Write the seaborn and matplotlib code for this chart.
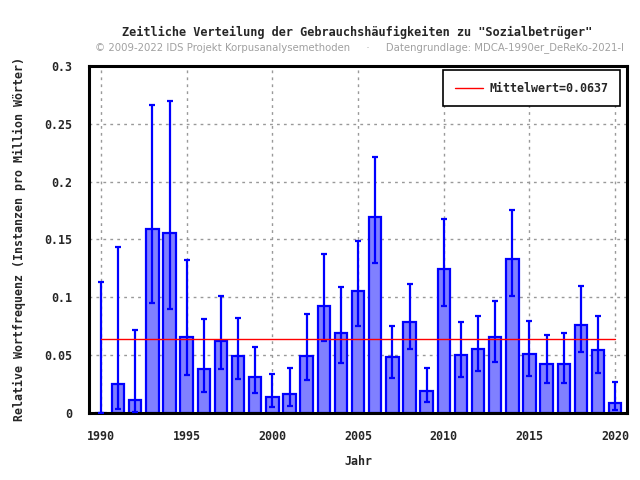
import numpy as np
import pandas as pd
import seaborn as sns
import matplotlib.pyplot as plt
from matplotlib.ticker import MultipleLocator

years = list(range(1990, 2021))
freq = [0.0, 0.0248, 0.0115, 0.159, 0.1558, 0.066, 0.0383, 0.0625, 0.0495, 0.0314,
        0.0141, 0.0167, 0.0495, 0.0927, 0.0694, 0.1057, 0.1696, 0.0481, 0.0789, 0.0193,
        0.1247, 0.0504, 0.0556, 0.066, 0.1333, 0.0512, 0.0426, 0.0426, 0.0763, 0.0547,
        0.0089]
err_low = [0.0, 0.0035, 0.001, 0.095, 0.0899, 0.0328, 0.0181, 0.038, 0.0294, 0.0176,
           0.0052, 0.006, 0.0285, 0.0622, 0.0432, 0.0752, 0.1296, 0.0302, 0.0553, 0.0095,
           0.0924, 0.0314, 0.0363, 0.0441, 0.1011, 0.0322, 0.0259, 0.0259, 0.0527, 0.0346,
           0.0029]
err_high = [0.1134, 0.1434, 0.072, 0.2664, 0.2696, 0.1325, 0.0815, 0.1014, 0.0824, 0.0573,
            0.034, 0.0392, 0.0858, 0.1376, 0.1089, 0.1489, 0.2212, 0.0755, 0.1117, 0.0392,
            0.1676, 0.0789, 0.0841, 0.097, 0.1754, 0.0798, 0.0677, 0.0694, 0.11, 0.0841,
            0.027]
mean_value = 0.0637

df = pd.DataFrame({'Jahr': years, 'Freq': freq, 'Lo': err_low, 'Hi': err_high})

sns.set_style("white")
plt.rcParams['font.family'] = ['DejaVu Sans Mono', 'DejaVu Sans']

fig = plt.figure(figsize=(6.4, 4.8), dpi=100)
ax = fig.add_axes([0.139, 0.1396, 0.841, 0.7229])

sns.barplot(data=df, x='Jahr', y='Freq', native_scale=True, width=0.72,
            color='#8080ff', saturation=1, edgecolor='#0000ff', linewidth=1.6,
            errorbar=None, ax=ax)

# asymmetric confidence intervals
yerr = [df['Freq'] - df['Lo'], df['Hi'] - df['Freq']]
ax.errorbar(df['Jahr'], df['Freq'], yerr=yerr, fmt='none', ecolor='#0000ff',
            elinewidth=1.6, capsize=2.5, capthick=1.6, zorder=3)

ax.plot([1990, 2020], [mean_value, mean_value], color='red', linewidth=1,
        label=f'Mittelwert={mean_value}', zorder=4)

ax.set_xlim(1989.3, 2020.7)
ax.set_ylim(0, 0.3)
ax.xaxis.set_major_locator(MultipleLocator(5))
ax.xaxis.set_minor_locator(MultipleLocator(1))
ax.yaxis.set_minor_locator(MultipleLocator(0.01))
ax.set_yticks([0, 0.05, 0.1, 0.15, 0.2, 0.25, 0.3])
ax.set_yticklabels(['0', '0.05', '0.1', '0.15', '0.2', '0.25', '0.3'])
ax.grid(True, which='major', color='#999999', linestyle=(0, (2, 3)), linewidth=1)
ax.set_axisbelow(True)

ax.tick_params(which='major', direction='out', length=6, width=2, labelsize=8.4, pad=6)
ax.tick_params(which='minor', direction='out', length=3.5, width=2)
for lbl in ax.get_xticklabels() + ax.get_yticklabels():
    lbl.set_fontweight('bold')
for s in ax.spines.values():
    s.set_linewidth(2.2)
    s.set_color('black')

ax.set_xlabel('Jahr', fontsize=8.4, fontweight='bold', labelpad=9)
ax.set_ylabel('Relative Wortfrequenz (Instanzen pro Million Wörter)', fontsize=8.4,
              fontweight='bold', labelpad=13)

leg = ax.legend(loc='upper right', fancybox=False, framealpha=1, edgecolor='black',
                prop={'weight': 'bold', 'size': 8.4}, borderpad=1.0, handlelength=2.4,
                handletextpad=0.6, borderaxespad=0, bbox_to_anchor=(0.987, 0.988))
leg.get_frame().set_linewidth(1.2)

fig.text(0.558, 0.926, 'Zeitliche Verteilung der Gebrauchshäufigkeiten zu "Sozialbetrüger"',
         ha='center', fontsize=8.6, fontweight='bold')
fig.text(0.148, 0.895, '© 2009-2022 IDS Projekt Korpusanalysemethoden     ·     '
         'Datengrundlage: MDCA-1990er_DeReKo-2021-I',
         fontsize=7.3, color='#a0a0a0', family='DejaVu Sans')

fig.savefig('out.png', dpi=100)
